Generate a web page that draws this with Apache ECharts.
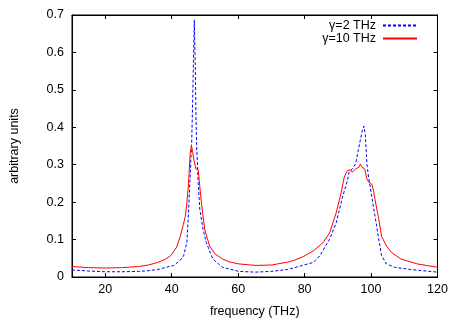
<!DOCTYPE html>
<html>
<head>
<meta charset="utf-8">
<script src="https://cdn.jsdelivr.net/npm/echarts@6/dist/echarts.min.js"></script>
<style>html,body{margin:0;padding:0;background:#fff}#c{width:461px;height:323px}</style>
</head>
<body>
<div id="c"></div>
<script>
var xTicks = [20, 40, 60, 80, 100, 120];
var yTicks = [0, 0.1, 0.2, 0.3, 0.4, 0.5, 0.6, 0.7];
var seriesNames = ['γ=2 THz', 'γ=10 THz'];
var seriesColors = ['#0000ff', '#ff0000'];

var blueFreq = [10, 15, 20, 25, 30, 33, 35.8, 38, 40.66, 42.6, 43.59, 44.57, 45.06, 45.54, 46.03, 46.33, 46.62, 46.81, 47.1, 47.3, 47.5, 47.99, 48.47, 49.45, 50.43, 52.38, 55.31, 60.2, 65.1, 70, 74.8, 77, 79.7, 82.65, 84.6, 87.53, 89.49, 91.44, 92.9, 93.39, 94.37, 95.34, 96.32, 97.3, 97.88, 98.27, 98.76, 99.25, 100.23, 101.2, 102.18, 103.16, 104.62, 107.06, 111.94, 120];
var blueVal = [0.019, 0.016, 0.014, 0.014, 0.015, 0.017, 0.020, 0.025, 0.031, 0.045, 0.057, 0.092, 0.171, 0.267, 0.363, 0.477, 0.608, 0.687, 0.564, 0.433, 0.354, 0.249, 0.180, 0.127, 0.092, 0.048, 0.026, 0.015, 0.013, 0.015, 0.020, 0.025, 0.032, 0.039, 0.057, 0.101, 0.144, 0.214, 0.258, 0.280, 0.289, 0.302, 0.346, 0.389, 0.403, 0.381, 0.302, 0.267, 0.214, 0.162, 0.109, 0.057, 0.035, 0.026, 0.020, 0.013];

var redFreq = [10, 15, 20, 25, 30, 33, 35.8, 38, 39.7, 41.5, 42.6, 43.5, 44.1, 44.6, 45.06, 45.55, 45.94, 46.3, 46.72, 47.3, 47.99, 48.47, 48.96, 49.94, 51.4, 53, 55.3, 57.5, 60.2, 65.1, 70, 74.8, 77, 79.7, 82.65, 85.58, 87.53, 89.49, 90.95, 91.93, 92.9, 93.88, 94.37, 94.86, 95.34, 96.32, 96.81, 97.3, 98.08, 98.76, 99.25, 100.23, 100.71, 101.2, 102.18, 103.16, 104.62, 106.09, 109.01, 113.9, 120];
var redVal = [0.028, 0.025, 0.024, 0.025, 0.028, 0.032, 0.039, 0.047, 0.057, 0.080, 0.109, 0.140, 0.162, 0.200, 0.249, 0.328, 0.352, 0.335, 0.311, 0.289, 0.286, 0.241, 0.197, 0.127, 0.083, 0.062, 0.048, 0.040, 0.035, 0.031, 0.032, 0.0395, 0.045, 0.055, 0.070, 0.092, 0.118, 0.171, 0.223, 0.267, 0.285, 0.286, 0.280, 0.277, 0.289, 0.293, 0.302, 0.293, 0.289, 0.262, 0.254, 0.248, 0.232, 0.206, 0.162, 0.109, 0.083, 0.066, 0.048, 0.035, 0.026];

function pairs(xs, ys) { return xs.map(function (x, i) { return [x, ys[i]]; }); }

var FONT = 'Liberation Sans, Arial, sans-serif';
var axisLineStyle = { color: '#000', width: 1 };
var dashes = [[3, 2], 'solid'];

var chart = echarts.init(document.getElementById('c'), null, { renderer: 'canvas' });
chart.setOption({
  animation: false,
  backgroundColor: '#fff',
  textStyle: { fontFamily: FONT },
  grid: { left: 62, right: 23.5, top: 15, bottom: 41.3, show: true, borderColor: '#000', borderWidth: 1, backgroundColor: 'transparent' },
  legend: {
    orient: 'vertical',
    right: 38,
    top: 14,
    align: 'right',
    itemWidth: 34,
    itemHeight: 10,
    itemGap: 0,
    itemStyle: { opacity: 0 },
    textStyle: { fontSize: 12.5, color: '#000', fontFamily: FONT, padding: [0, 2, 0, 0] },
    data: seriesNames
  },
  xAxis: [{
    type: 'value', min: 10, max: 120, position: 'bottom',
    name: 'frequency (THz)', nameLocation: 'middle', nameGap: 28,
    nameTextStyle: { fontSize: 12.5, color: '#000', fontFamily: FONT },
    axisLine: { show: true, onZero: false, lineStyle: axisLineStyle },
    axisTick: { show: true, inside: true, length: 4, lineStyle: axisLineStyle, customValues: xTicks },
    axisLabel: { show: true, customValues: xTicks, margin: 6, fontSize: 12.5, color: '#000', fontFamily: FONT },
    splitLine: { show: false }
  }, {
    type: 'value', min: 10, max: 120, position: 'top',
    axisLine: { show: true, onZero: false, lineStyle: axisLineStyle },
    axisTick: { show: true, inside: true, length: 4, lineStyle: axisLineStyle, customValues: xTicks },
    axisLabel: { show: false },
    splitLine: { show: false }
  }],
  yAxis: [{
    type: 'value', min: 0, max: 0.7, interval: 0.1, position: 'left',
    name: 'arbitrary units', nameLocation: 'middle', nameGap: 51,
    nameTextStyle: { fontSize: 12.5, color: '#000', fontFamily: FONT },
    axisLine: { show: true, onZero: false, lineStyle: axisLineStyle },
    axisTick: { show: true, inside: true, length: 4, lineStyle: axisLineStyle },
    axisLabel: { show: true, margin: 8, fontSize: 12.5, color: '#000', fontFamily: FONT,
      formatter: function (v) { return v === 0 ? '0' : v.toFixed(1); } },
    splitLine: { show: false }
  }, {
    type: 'value', min: 0, max: 0.7, interval: 0.1, position: 'right',
    axisLine: { show: true, onZero: false, lineStyle: axisLineStyle },
    axisTick: { show: true, inside: true, length: 4, lineStyle: axisLineStyle },
    axisLabel: { show: false },
    splitLine: { show: false }
  }],
  series: [{
    name: seriesNames[0], type: 'line', xAxisIndex: 0, yAxisIndex: 0,
    data: pairs(blueFreq, blueVal), symbol: 'none', showSymbol: false,
    itemStyle: { color: seriesColors[0] },
    lineStyle: { color: seriesColors[0], width: 1, type: dashes[0] }
  }, {
    name: seriesNames[1], type: 'line', xAxisIndex: 0, yAxisIndex: 0,
    data: pairs(redFreq, redVal), symbol: 'none', showSymbol: false,
    itemStyle: { color: seriesColors[1] },
    lineStyle: { color: seriesColors[1], width: 1, type: dashes[1] }
  }]
});
</script>
</body>
</html>
